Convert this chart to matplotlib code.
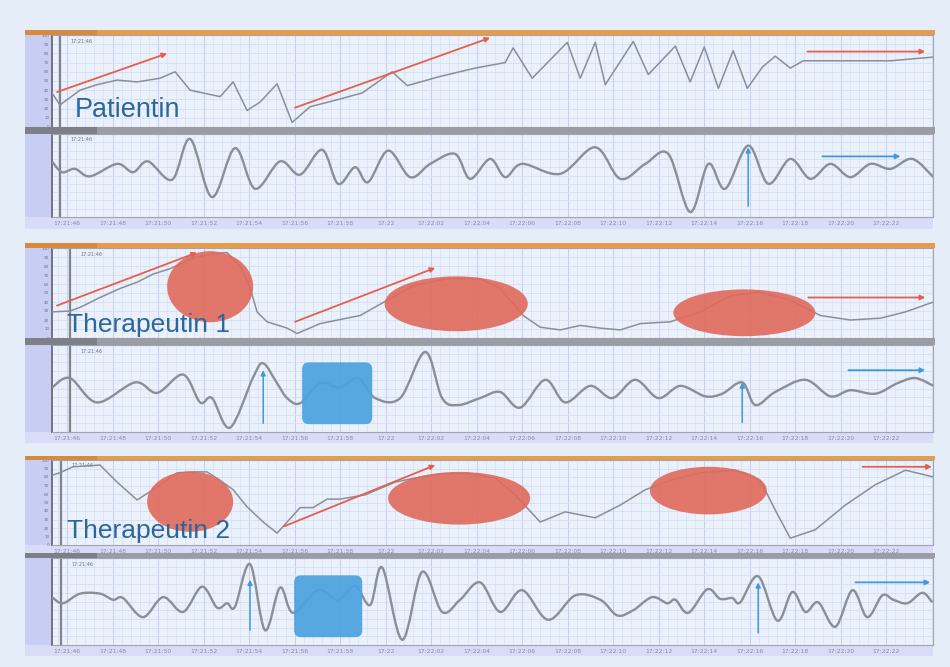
import numpy as np
import matplotlib
matplotlib.use("Agg")
import matplotlib.pyplot as plt
from matplotlib.path import Path
from matplotlib.patches import PathPatch, Ellipse, FancyBboxPatch, Rectangle
from matplotlib.ticker import MultipleLocator

# time axis: seconds after 17:21:00
tick_times = list(range(46, 83, 2))
tick_labels = ['17:21:46', '17:21:48', '17:21:50', '17:21:52', '17:21:54', '17:21:56',
               '17:21:58', '17:22', '17:22:02', '17:22:04', '17:22:06', '17:22:08',
               '17:22:10', '17:22:12', '17:22:14', '17:22:16', '17:22:18', '17:22:20',
               '17:22:22']

# Patientin - upper trace (piecewise)
pat_hr_t = [45.34, 45.69, 46.57, 47.32, 48.20, 49.08, 50.09, 50.75, 51.41, 52.73, 53.30, 53.91,
            54.48, 55.23, 55.89, 56.68, 57.78, 58.97, 60.29, 60.95, 62.40, 63.93, 65.25, 65.60,
            66.44, 67.98, 68.55, 69.21, 69.65, 70.88, 71.54, 72.73, 73.38, 74.00, 74.62, 75.27,
            75.89, 76.55, 77.12, 77.78, 78.35, 82.18, 84.07]
pat_hr_v = [37, 24, 40, 46, 51, 49, 53, 60, 40, 33, 49, 18,
            27, 47, 5, 22, 29, 37, 60, 45, 55, 64, 70, 86,
            53, 92, 53, 92, 46, 93, 57, 88, 49, 87, 42, 83,
            42, 65, 77, 64, 72, 72, 76]

# Patientin - lower trace (smooth)
pat_rsp_t = [45.34, 45.78, 46.35, 47.01, 48.20, 48.90, 49.56, 50.62, 51.41, 52.37, 53.38, 54.26,
             55.36, 56.24, 57.21, 57.91, 58.66, 59.23, 60.11, 61.08, 61.96, 63.05, 63.71, 64.59,
             65.25, 66.00, 67.67, 69.21, 70.31, 71.41, 72.42, 73.38, 74.18, 74.92, 75.93, 76.81,
             77.78, 78.66, 79.54, 80.42, 81.30, 82.18, 83.14, 84.07]
pat_rsp_v = [67, 54, 58, 49, 64, 54, 67, 45, 94, 24, 83, 34,
             67, 51, 81, 40, 60, 42, 80, 48, 64, 76, 46, 70,
             48, 64, 52, 84, 46, 64, 76, 6, 64, 34, 86, 40,
             70, 46, 64, 48, 64, 58, 70, 48]

# Therapeutin 1
th1_hr_t = [45.34, 46.13, 46.57, 47.45, 48.33, 49.08, 49.78, 50.53, 51.54, 52.29, 53.03, 53.60,
            54.04, 54.35, 54.79, 55.67, 56.11, 57.12, 58.88, 60.07, 61.21, 62.70, 64.15, 65.03,
            66.04, 66.79, 67.67, 68.55, 69.43, 70.31, 71.19, 72.51, 73.82, 75.14, 76.46, 77.78,
            79.10, 80.42, 81.74, 82.84, 84.07]
th1_hr_v = [29, 30, 34, 45, 55, 62, 71, 77, 89, 93, 95, 80,
            56, 29, 18, 11, 5, 16, 25, 42, 58, 66, 66, 55,
            25, 12, 9, 14, 11, 9, 16, 18, 29, 47, 51, 42,
            25, 20, 22, 29, 40]
th1_rsp_t = [45.34, 46.13, 47.32, 48.99, 49.96, 51.10, 51.85, 52.37, 53.16, 54.18, 54.62, 55.23,
             55.67, 56.24, 57.12, 58.00, 58.79, 59.54, 60.64, 61.74, 62.48, 63.19, 64.15, 65.03,
             65.91, 67.01, 67.89, 68.99, 69.96, 70.97, 71.98, 72.95, 74.04, 74.79, 75.67, 76.24,
             77.12, 78.44, 79.54, 80.42, 81.52, 82.48, 83.27, 84.07]
th1_rsp_v = [51, 62, 34, 57, 45, 66, 34, 39, 5, 63, 79, 56,
             39, 33, 56, 51, 62, 39, 39, 92, 39, 31, 39, 46,
             28, 60, 34, 53, 39, 60, 39, 53, 41, 44, 57, 31,
             46, 60, 41, 48, 44, 56, 62, 53]

# Therapeutin 2
th2_hr_t = [45.34, 45.69, 46.26, 47.45, 48.20, 49.08, 49.78, 50.84, 51.54, 52.15, 52.73, 53.30,
            53.91, 54.62, 55.23, 55.67, 56.24, 56.81, 57.43, 58.00, 59.10, 60.42, 61.52, 62.62,
            63.71, 64.81, 65.69, 66.79, 67.89, 69.21, 70.31, 71.41, 72.51, 73.82, 75.36, 76.46,
            77.12, 77.78, 78.88, 80.20, 81.52, 82.84, 84.07]
th2_hr_v = [82, 85, 92, 94, 74, 53, 65, 85, 86, 86, 76, 65,
            45, 27, 14, 27, 44, 44, 54, 54, 59, 74, 80, 84,
            84, 79, 59, 27, 39, 32, 47, 65, 76, 85, 88, 76,
            41, 8, 18, 47, 71, 88, 80]
th2_rsp_t = [45.34, 45.82, 46.57, 47.45, 48.02, 48.46, 49.34, 50.22, 51.10, 51.93, 52.59, 53.03,
             53.38, 54.04, 54.70, 55.36, 55.93, 57.03, 57.91, 58.66, 59.32, 59.85, 60.73, 61.60,
             62.48, 63.27, 64.15, 65.03, 66.00, 67.14, 68.33, 69.43, 70.18, 70.88, 71.71, 72.37,
             72.73, 73.30, 74.13, 74.70, 75.23, 75.58, 76.37, 77.21, 77.87, 78.44, 79.01, 79.76,
             80.51, 81.16, 81.82, 82.31, 82.92, 83.58, 84.02]
th2_rsp_v = [55, 48, 59, 59, 52, 54, 32, 55, 38, 67, 43, 48,
             44, 93, 17, 66, 37, 63, 52, 68, 46, 89, 6, 84,
             38, 52, 72, 38, 63, 29, 57, 52, 34, 40, 55, 48,
             52, 37, 64, 53, 54, 49, 79, 28, 61, 38, 49, 21,
             63, 32, 57, 52, 48, 60, 49]

W, H = 950, 667
BG = '#e4edf8'
FACE = '#eaf1fb'
PURPLE = '#c8cdf4'
BAND = '#d8dcf6'
ORANGE = '#e79c4b'
GREY = '#9a9da3'
LINE = '#8a8f97'
RED = '#e4604c'
ELL = '#e06a5a'
BLUE = '#3d9ae0'
BOX = '#4aa2de'
TXT = '#2a679c'

fig = plt.figure(figsize=(9.5, 6.67), dpi=100)
fig.patch.set_facecolor(BG)


def box(x0, y0, x1, y1, color, z=-1):
    fig.add_artist(Rectangle((x0 / W, 1 - y1 / H), (x1 - x0) / W, (y1 - y0) / H,
                             transform=fig.transFigure, facecolor=color,
                             edgecolor='none', zorder=z))


def add_px(x0, y0, x1, y1):
    return fig.add_axes([x0 / W, 1 - y1 / H, (x1 - x0) / W, (y1 - y0) / H])


def smooth_path(t, v):
    pts = np.column_stack([t, v]).astype(float)
    ext = np.vstack([pts[0], pts, pts[-1]])
    verts = [pts[0]]
    codes = [Path.MOVETO]
    for i in range(len(pts) - 1):
        p0, p1, p2, p3 = ext[i], ext[i + 1], ext[i + 2], ext[i + 3]
        verts += [p1 + (p2 - p0) / 6, p2 - (p3 - p1) / 6, p2]
        codes += [Path.CURVE4] * 3
    return Path(verts, codes)


def panel(y0, y1, cursor, labels, top):
    box(25, y0, 52, y1, PURPLE)
    ax = add_px(52, y0, 933, y1)
    ax.set_facecolor(FACE)
    ax.set_xlim(45.34, 84.05)
    ax.set_ylim(0, 100)
    ax.xaxis.set_major_locator(MultipleLocator(2))
    ax.xaxis.set_minor_locator(MultipleLocator(0.4))
    ax.yaxis.set_major_locator(MultipleLocator(10))
    ax.grid(which='major', axis='x', color='#c2cff2', lw=0.7)
    ax.grid(which='minor', axis='x', color='#d7e0f6', lw=0.5)
    ax.grid(which='major', axis='y', color='#d0daf4', lw=0.5)
    ax.set_axisbelow(True)
    ax.tick_params(which='both', length=0, labelsize=4.3, labelcolor='#868ba6', pad=3)
    ax.set_xticks(tick_times)
    if labels:
        ax.set_xticklabels(tick_labels)
    else:
        ax.set_xticklabels([])
    if top:
        ax.set_yticks(range(0, 101, 10))
        ax.set_yticklabels([str(v) for v in range(0, 101, 10)], fontsize=3, color='#6a6f90')
        ax.tick_params(axis='y', pad=2)
    else:
        ax.set_yticklabels([])
    for s in ax.spines.values():
        s.set_color('#a0a4b0')
        s.set_linewidth(0.8)
    ax.spines['left'].set_color('#70737c')
    ax.spines['left'].set_linewidth(1.4)
    ax.axvline(cursor, color='#7f838a', lw=1.6, zorder=2)
    ax.text(cursor + 0.45, 93, '17:21:46', fontsize=3.5, color='#6a6f80', va='center')
    return ax


def header(y0, y1, color, dark):
    box(25, y0, 935, y1, color, z=2)
    box(25, y0, 97, y1, dark, z=2)


def trace_hr(ax, t, v):
    ax.plot(t, v, color=LINE, lw=1.1, zorder=3)


def trace_rsp(ax, t, v):
    ax.add_patch(PathPatch(smooth_path(t, v), fill=False, edgecolor=LINE, lw=1.7, zorder=3))


def arrow(ax, start, end, color, lw=1.3):
    ax.annotate('', xy=end, xytext=start, zorder=6,
                arrowprops=dict(arrowstyle='-|>', color=color, lw=lw,
                                mutation_scale=7, shrinkA=0, shrinkB=0))


def blob(ax, center, w, h):
    ax.add_patch(Ellipse(center, w, h, facecolor=ELL, edgecolor='none', alpha=0.9, zorder=4))


def square(ax, t0, t1, v0, v1):
    ax.add_patch(FancyBboxPatch((t0, v0), t1 - t0, v1 - v0,
                                boxstyle='round,pad=0,rounding_size=0.3',
                                mutation_aspect=26, facecolor=BOX, edgecolor='none',
                                alpha=0.92, zorder=4))


# ---- group 1: Patientin
header(30, 35, ORANGE, '#d88a3c')
ax = panel(35, 127, 45.69, False, True)
trace_hr(ax, pat_hr_t, pat_hr_v)
arrow(ax, (45.56, 38), (50.40, 80), RED)
arrow(ax, (56.02, 21), (64.59, 97), RED)
arrow(ax, (78.53, 82), (83.71, 82), RED)
ax.text(46.35, 11, 'Patientin', fontsize=19.5, color=TXT, family='Liberation Sans', zorder=7)

header(127, 134, GREY, '#7d8086')
ax = panel(134, 217, 45.69, True, False)
box(25, 217, 933, 229, BAND)
trace_rsp(ax, pat_rsp_t, pat_rsp_v)
arrow(ax, (75.93, 13), (75.93, 84), BLUE, lw=1.1)
arrow(ax, (79.19, 73), (82.62, 73), BLUE)

# ---- group 2: Therapeutin 1
header(243, 248, ORANGE, '#d88a3c')
ax = panel(248, 338, 46.13, False, True)
trace_hr(ax, th1_hr_t, th1_hr_v)
blob(ax, (52.29, 57), 3.78, 79)
blob(ax, (63.10, 38), 6.29, 61)
blob(ax, (75.76, 28), 6.24, 52)
arrow(ax, (45.56, 36), (51.71, 95), RED)
arrow(ax, (56.02, 18), (62.18, 78), RED)
arrow(ax, (78.57, 45), (83.71, 45), RED)
ax.text(46.0, 7, 'Therapeutin 1', fontsize=19, color=TXT, family='Liberation Sans', zorder=7)

header(338, 345, GREY, '#7d8086')
ax = panel(345, 432, 46.13, True, False)
box(25, 432, 933, 443, BAND)
trace_rsp(ax, th1_rsp_t, th1_rsp_v)
square(ax, 56.33, 59.41, 9, 80)
arrow(ax, (54.62, 10), (54.62, 71), BLUE, lw=1.1)
arrow(ax, (75.67, 11), (75.67, 57), BLUE, lw=1.1)
arrow(ax, (80.33, 71), (83.71, 71), BLUE)

# ---- group 3: Therapeutin 2
header(456, 460, ORANGE, '#d88a3c')
ax = panel(460, 545, 45.74, True, True)
box(25, 545, 933, 553, BAND)
trace_hr(ax, th2_hr_t, th2_hr_v)
blob(ax, (51.41, 51), 3.78, 71)
blob(ax, (63.23, 55), 6.24, 62)
blob(ax, (74.18, 64), 5.14, 56)
arrow(ax, (55.54, 22), (62.18, 94), RED)
arrow(ax, (80.95, 92), (84.0, 92), RED)
ax.text(46.0, 8, 'Therapeutin 2', fontsize=19, color=TXT, family='Liberation Sans', zorder=7)

header(553, 558, GREY, '#7d8086')
ax = panel(558, 645, 45.74, True, False)
box(25, 645, 933, 656, BAND)
trace_rsp(ax, th2_rsp_t, th2_rsp_v)
square(ax, 55.98, 58.97, 9, 80)
arrow(ax, (54.04, 17), (54.04, 75), BLUE, lw=1.1)
arrow(ax, (76.37, 14), (76.37, 72), BLUE, lw=1.1)
arrow(ax, (80.64, 72), (83.93, 72), BLUE)

fig.savefig('out.png', dpi=100, facecolor=fig.get_facecolor())
